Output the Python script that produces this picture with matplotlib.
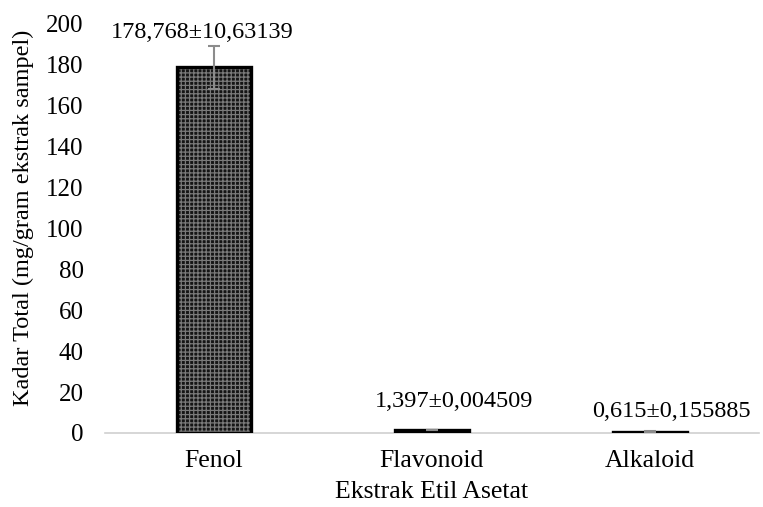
import matplotlib
matplotlib.use("Agg")
import matplotlib.pyplot as plt

categories = ["Fenol", "Flavonoid", "Alkaloid"]
values = [178.768, 1.397, 0.615]
errors = [10.63139, 0.004509, 0.155885]
labels = ["178,768\u00b110,63139", "1,397\u00b10,004509", "0,615\u00b10,155885"]
yticks = [0, 20, 40, 60, 80, 100, 120, 140, 160, 180, 200]

plt.rcParams['font.family'] = ['Liberation Serif', 'DejaVu Serif']
plt.rcParams['hatch.linewidth'] = 0.9

fig = plt.figure(figsize=(7.63, 5.07), dpi=100)
ax = fig.add_axes([0.137, 0.146, 0.858, 0.807])

x = list(range(len(categories)))
ax.bar(x, values, width=0.34, color='#151515', edgecolor='#7a7a7a', hatch='++++', linewidth=0, zorder=2)
ax.bar(x, values, width=0.34, fill=False, edgecolor='black', linewidth=2.4, zorder=3)
ax.errorbar(x, values, yerr=errors, fmt='none', ecolor='#8c8c8c', elinewidth=1.5, capsize=4, capthick=1.5, zorder=4)

label_offsets = [-0.05, 0.1, 0.1]
label_y = [196, 15.2, 10.3]
for xi, lab, dx, ly in zip(x, labels, label_offsets, label_y):
    ax.text(xi + dx, ly, lab, ha='center', va='center', fontsize=17.5)

ax.set_xlim(-0.5, 2.5)
ax.set_ylim(0, 200)
ax.set_yticks(yticks)
ax.set_xticks(x)
ax.set_xticklabels(categories)
ax.tick_params(axis='y', length=0, labelsize=18, pad=15)
ax.tick_params(axis='x', length=0, labelsize=18.5, pad=12)
for s in ['top', 'right', 'left']:
    ax.spines[s].set_visible(False)
ax.spines['bottom'].set_color('#d0d0d0')
ax.spines['bottom'].set_linewidth(1.2)
ax.set_ylabel("Kadar Total (mg/gram ekstrak sampel)", fontsize=17.5)
ax.yaxis.set_label_coords(-0.107, 0.525)
ax.set_xlabel("Ekstrak Etil Asetat", fontsize=18.5)
ax.xaxis.set_label_coords(0.5, -0.118)

fig.savefig("out.png", dpi=100)
